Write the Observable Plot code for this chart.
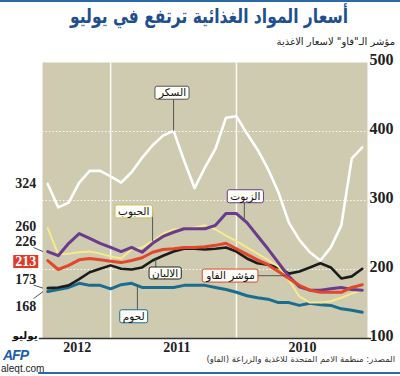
<!DOCTYPE html>
<html><head><meta charset="utf-8">
<script src="https://cdn.jsdelivr.net/npm/d3@7"></script>
<script src="https://cdn.jsdelivr.net/npm/@observablehq/plot@0.6"></script>
<style>
body{margin:0;background:#fff;}
#wrap{position:relative;width:400px;height:376px;overflow:hidden;background:#fff;}
#topline{position:absolute;left:0;top:0;width:400px;height:2px;background:#2c69a6;}
#title{position:absolute;left:0;top:4px;white-space:nowrap;font:bold 20px "DejaVu Sans";color:#1f4f8e;transform-origin:0 0;}
#subtitle{position:absolute;right:5px;top:36px;font:10px "DejaVu Sans";color:#222;}
#chart{position:absolute;left:0;top:56px;}
#source{position:absolute;right:5px;top:354px;font:8.5px "DejaVu Sans";color:#333;}
#afp{position:absolute;left:3px;top:347px;font:italic bold 14px "Liberation Sans";color:#1d5fa8;letter-spacing:-1px;}
#aleqt{position:absolute;left:1px;top:363px;font:10px "Liberation Sans";color:#222;}
#bottomline{position:absolute;left:38px;top:372px;width:362px;height:2px;background:#2c69a6;}
</style></head><body>
<div id="wrap">
<div id="topline"></div>
<div id="title" dir="rtl">أسعار المواد الغذائية ترتفع في يوليو</div>
<div id="subtitle" dir="rtl">مؤشر الـ"فاو" لاسعار الاغذية</div>
<div id="chart"></div>
<div id="source" dir="rtl">المصدر: منظمة الامم المتحدة للاغذية والزراعة (الفاو)</div>
<div id="afp">AFP</div>
<div id="aleqt">aleqt.com</div>
<div id="bottomline"></div>
</div>
<script>
// Months, chronological (Jan 2010 .. Jul 2012); drawn right-to-left
const months = ["2010-01","2010-02","2010-03","2010-04","2010-05","2010-06","2010-07","2010-08","2010-09","2010-10","2010-11","2010-12",
"2011-01","2011-02","2011-03","2011-04","2011-05","2011-06","2011-07","2011-08","2011-09","2011-10","2011-11","2011-12",
"2012-01","2012-02","2012-03","2012-04","2012-05","2012-06","2012-07"];
const sugar   = [377,361,264,232,213,225,243,268,312,346,374,397,422,420,375,348,318,358,401,394,380,362,341,326,335,343,343,326,297,290,324];
const cereals = [170,165,159,154,152,152,161,184,204,214,223,232,241,249,258,264,261,259,258,252,241,232,229,216,219,223,226,225,223,222,260];
const oils    = [170,171,174,172,170,170,175,190,210,230,249,268,281,281,264,259,259,259,254,248,238,225,232,226,232,238,245,252,238,220,226];
const fao     = [178,174,167,167,167,170,177,187,197,207,214,222,230,238,235,233,232,232,230,229,225,217,213,210,212,214,216,214,206,200,213];
const dairy   = [201,190,187,203,209,203,197,194,203,207,209,216,226,232,230,229,230,230,226,220,213,203,200,201,206,201,196,186,177,174,173];
const meat    = [138,141,143,148,149,151,148,152,152,157,159,162,167,171,174,177,177,177,174,174,174,174,180,178,172,177,177,180,174,171,168];
const seriesNames = {sugar:"السكر", oils:"الزيوت", cereals:"الحبوب", dairy:"الالبان", fao:"مؤشر الفاو", meat:"لحوم"};
const yearLabels = ["2010","2011","2012"];
const yTicks = [100,200,300,400,500];
const lastMonthLabel = "يوليو";

// fit the title to the reference's condensed width
(function(){
  const t = document.getElementById("title");
  const w = t.getBoundingClientRect().width;
  const target = 278, center = 209;
  const s = target / w;
  t.style.transform = `translateX(${center - target/2}px) scaleX(${s})`;
})();

const seriesValues = {sugar, meat, dairy, cereals, oils, fao};
const styles = {
  sugar:{color:"#ffffff", w:2.6, box:"#555"},
  meat:{color:"#1b6d8f", w:3, box:"#1b6d8f"},
  dairy:{color:"#1c1c1c", w:2.6, box:"#222"},
  cereals:{color:"#f6ea8c", w:2, box:"#cdbd5a"},
  oils:{color:"#6b3b8e", w:3, box:"#6b3b8e"},
  fao:{color:"#e2472a", w:3, box:"#e2472a"}
};
const order = ["sugar","meat","dairy","cereals","oils","fao"];
const last = months.length - 1;
const pxPerUnit = 276 / 400; // plot height / y span, used to convert label pixel offsets

function interp(arr, x){ const a = Math.floor(x), b = Math.min(a+1, arr.length-1), t = x - a; return arr[a]*(1-t) + arr[b]*t; }

// label placement (annotation layout)
const annots = [
  {key:"sugar",   bx:18.1,  by:456, lx:18.0},
  {key:"oils",    bx:11.15, by:306, lx:11.25},
  {key:"cereals", bx:21.8,  by:284, lx:20.0},
  {key:"dairy",   bx:18.8,  by:194, lx:19.7},
  {key:"fao",     bx:12.56, by:191, lx:7.3, horiz:true},
  {key:"meat",    bx:21.8,  by:132, lx:21.45}
].map(a => ({...a, name: seriesNames[a.key], lv: interp(seriesValues[a.key], a.lx)}));

// end-value labels on the left: pixel offset of label, and leader start offset (px)
const endLabels = [
  {key:"sugar", dy:0}, {key:"cereals", dy:-2}, {key:"oils", dy:-10, lead:-4},
  {key:"dairy", dy:-9, lead:-3}, {key:"meat", dy:15, lead:7}
].map(d => ({...d, v: seriesValues[d.key][last]}));
const faoEnd = [{v: fao[last]}];

const yearPos = yearLabels.map((y) => {
  const idx = months.map((m,i)=>[m,i]).filter(([m]) => m.startsWith(y)).map(([,i])=>i);
  const lo = Math.max(idx[0] - 0.5, -0.5), hi = Math.min(idx[idx.length-1] + 0.5, last + 0.5);
  return {label:y, x:(lo+hi)/2};
});
const yearBounds = yearLabels.slice(1).map(y => months.indexOf(y + "-01"));

const marks = [
  Plot.frame({fill:"#cecbb1", stroke:"none"}),
  Plot.ruleY([200,300,400], {stroke:"#ffffff", strokeWidth:1, strokeDasharray:"1.5,2", strokeOpacity:0.9}),
  Plot.ruleX(yearBounds, {stroke:"#ffffff", strokeWidth:1.5, strokeOpacity:0.9}),
  Plot.ruleY([{y:100, x1:last+0.8, x2:-0.9}], {y:"y", x1:"x1", x2:"x2", stroke:"#333", strokeWidth:1.5}),
];
for (const k of order) {
  marks.push(Plot.line(seriesValues[k].map((v,i)=>({i, v})), {x:"i", y:"v", stroke:styles[k].color, strokeWidth:styles[k].w, strokeLinejoin:"round", strokeLinecap:"round"}));
}
const leads = endLabels.filter(d => d.lead !== undefined).map(d => ({
  x1: last + 1.35, y1: d.v - d.lead / pxPerUnit, x2: last + 0.45, y2: d.v
}));
marks.push(
  Plot.link(annots.filter(a=>!a.horiz), {x1:"lx", y1:"by", x2:"lx", y2:"lv", stroke:"#555", strokeWidth:1}),
  Plot.link(annots.filter(a=>a.horiz), {x1:"bx", y1:"by", x2:"lx", y2:"by", stroke:"#555", strokeWidth:1}),
  Plot.text(annots, {x:"bx", y:"by", text:"name", fontFamily:"DejaVu Sans", fontSize:10.5, fill:"#111"}),
  Plot.link(leads, {x1:"x1", y1:"y1", x2:"x2", y2:"y2", stroke:"#555", strokeWidth:1}),
  ...endLabels.map(d => Plot.text([d], {x:last, y:"v", dy:d.dy, text:e=>String(e.v), dx:-22, fontFamily:"Liberation Serif", fontWeight:"bold", fontSize:14, fill:"#222"})),
  Plot.text(faoEnd, {x:last, y:"v", dy:1, dx:-22, text:d=>String(d.v), fontFamily:"Liberation Serif", fontWeight:"bold", fontSize:14, fill:"#ffffff"}),
  Plot.text([lastMonthLabel], {x:last, y:100, dx:-10, dy:-3, text:d=>d, textAnchor:"end", fontFamily:"DejaVu Sans", fontWeight:"bold", fontSize:10.5, fill:"#111"}),
  Plot.text(yTicks, {x:-0.5, y:d=>d, text:d=>String(d), textAnchor:"start", dx:2, dy:-3, fontFamily:"Liberation Serif", fontWeight:"bold", fontSize:16, fill:"#222"}),
  Plot.text(yearPos, {x:"x", y:100, text:"label", dy:9, dx:-2, fontFamily:"Liberation Serif", fontWeight:"bold", fontSize:14, fill:"#222"})
);

const chart = Plot.plot({
  width:400, height:300, marginLeft:42, marginRight:33, marginTop:6, marginBottom:18,
  x:{domain:[-0.5, last+0.5], reverse:true, axis:null},
  y:{domain:[100,500], axis:null},
  style:{background:"transparent", overflow:"visible"},
  marks
});
document.getElementById("chart").appendChild(chart);

// draw boxes behind label texts, found by their content
function boxText(t, st) {
  const bb = t.getBBox();
  const r = document.createElementNS("http://www.w3.org/2000/svg", "rect");
  r.setAttribute("x", bb.x - st.px);
  r.setAttribute("y", bb.y - st.py);
  r.setAttribute("width", bb.width + 2*st.px);
  r.setAttribute("height", bb.height + 2*st.py);
  r.setAttribute("rx", st.rx);
  r.setAttribute("fill", st.fill);
  if (st.stroke) { r.setAttribute("stroke", st.stroke); r.setAttribute("stroke-width", 1); }
  const tr = t.getAttribute("transform"); if (tr) r.setAttribute("transform", tr);
  t.parentNode.insertBefore(r, t);
}
const allTexts = Array.from(chart.querySelectorAll("text"));
for (const a of annots) {
  const t = allTexts.find(e => e.textContent === a.name);
  if (t) boxText(t, {px:3, py:0, rx:2, fill:"#fdfdf8", stroke:styles[a.key].box});
}
const redT = allTexts.find(e => e.textContent === String(fao[last]) && e.getAttribute("fill") === "#ffffff")
  || allTexts.find(e => e.textContent === String(fao[last]));
if (redT) boxText(redT, {px:2, py:-1, rx:0, fill:"#e0392a"});
</script>
</body></html>
